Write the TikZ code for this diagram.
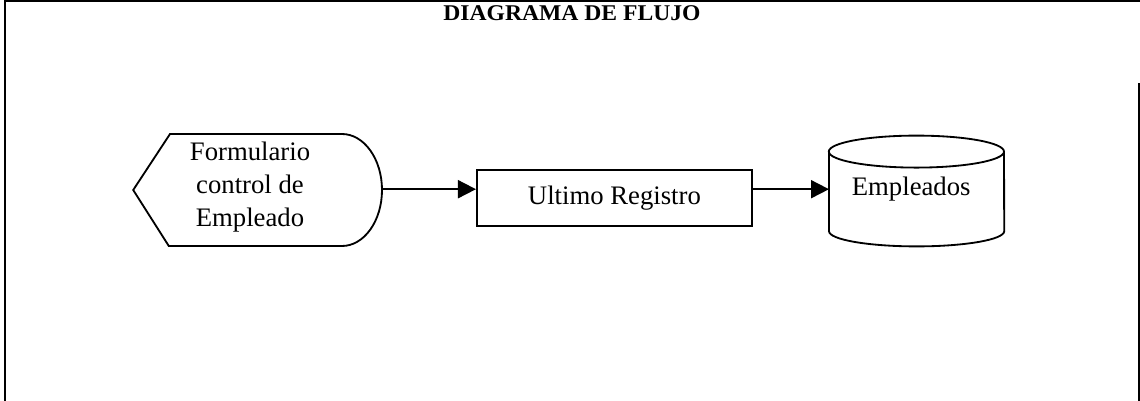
\documentclass[tikz,border=0pt]{standalone}
\usepackage{fontspec}
\setmainfont{Liberation Serif}
\usetikzlibrary{arrows.meta}
\tikzset{>={Triangle[length=4.5mm,width=4.5mm]}}
\colorlet{background}{white}
\colorlet{penColor}{black}
\tikzset{
  shapeline/.style={penColor,line width=1.3pt},
  flowarrow/.style={penColor,line width=1.3pt,->},
  boxtext/.style={font=\fontsize{19}{21.5}\selectfont,align=center,inner sep=0pt}
}
\begin{document}
\begin{tikzpicture}
\useasboundingbox (0,0) rectangle (28.5,-10.025);
\fill[background] (0,0) rectangle (28.5,-10.025);
% frame
\draw[penColor,line width=1pt] (0.12,-10.025) -- (0.12,-0.03) -- (28.5,-0.03);
\draw[penColor,line width=1pt] (28.47,-2.08) -- (28.47,-10.025);
\node (title) at (14.3,-0.32) {\scalebox{1.05}[1]{\fontsize{16}{16}\selectfont\bfseries DIAGRAMA DE FLUJO}};
% display shape
\draw[shapeline] (3.33,-4.75) -- (4.25,-3.35) -- (8.55,-3.35) arc (90:-90:1.0 and 1.4) -- (4.22,-6.15) -- cycle;
\node[boxtext] (form) at (6.25,-4.68) {Formulario\\[2pt]control de\\[2pt]Empleado};
\coordinate (formR) at (9.55,-4.73);
% process box
\node[shapeline,draw,boxtext,minimum width=6.875cm,minimum height=1.4cm] (reg) at (15.36,-4.96) {Ultimo Registro};
% stored data
\draw[shapeline] (22.91,-3.79) ellipse (2.19 and 0.4);
\draw[shapeline] (20.725,-3.79) -- (20.725,-5.78) arc (180:360:2.19 and 0.38) -- (25.1,-3.79);
\node[boxtext] (emp) at (22.78,-4.73) {Empleados};
\coordinate (empL) at (20.725,-4.73);
% arrows
\draw[flowarrow] (formR) -- (formR -| reg.west);
\draw[flowarrow] (reg.east |- empL) -- (empL);
\end{tikzpicture}
\end{document}
